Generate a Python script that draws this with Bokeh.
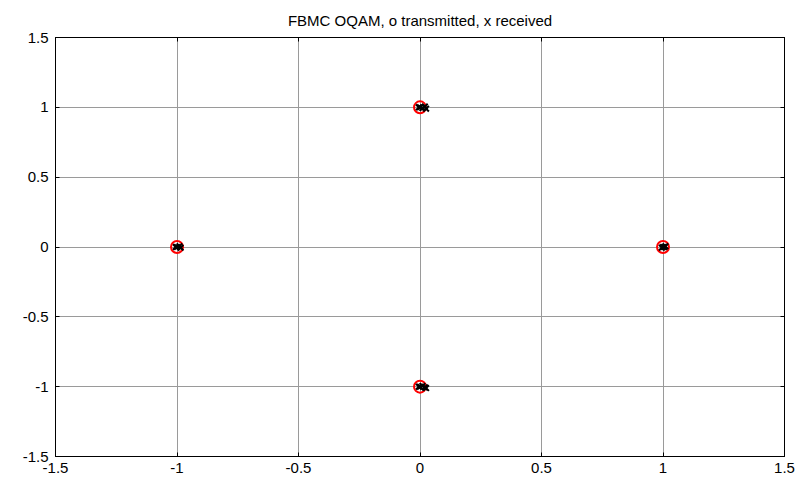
from bokeh.plotting import figure
from bokeh.models import Range1d, FixedTicker, LinearAxis
from bokeh.embed import file_html
from bokeh.resources import INLINE

# Transmitted OQAM symbols (o)
tx_re = [1.0, 0.0, -1.0, 0.0]
tx_im = [0.0, 1.0, 0.0, -1.0]

# Received symbols (x), clustered around the transmitted ones
rx_re = [1.0, 1.01, 0.995, 1.005,
         0.0, 0.01, 0.02, 0.025, -0.005,
         -1.0, -0.99, -0.985, -1.005,
         0.0, 0.01, 0.02, 0.025, -0.005]
rx_im = [0.0, 0.005, -0.005, 0.0,
         1.0, 0.995, 1.005, 0.99, 1.0,
         0.0, 0.005, -0.005, 0.0,
         -1.0, -0.995, -1.005, -1.01, -1.0]

ticks = [-1.5, -1.0, -0.5, 0.0, 0.5, 1.0, 1.5]
tick_labels = {-1.5: "-1.5", -1.0: "-1", -0.5: "-0.5", 0.0: "0",
               0.5: "0.5", 1.0: "1", 1.5: "1.5"}

p = figure(width=801, height=479, output_backend="svg", toolbar_location=None,
           x_range=Range1d(-1.5, 1.5), y_range=Range1d(-1.5, 1.5),
           title="FBMC OQAM, o transmitted, x received",
           min_border_left=55, min_border_right=17, min_border_top=37,
           min_border_bottom=23)

p.title.align = "center"
p.title.text_font = "Liberation Sans"
p.title.text_font_size = "15px"
p.title.text_font_style = "normal"
p.title.text_color = "black"
p.title.offset = 0
p.title.standoff = 17

p.background_fill_color = "white"
p.border_fill_color = "white"
p.outline_line_color = "black"
p.outline_line_width = 1

for ax in (p.xaxis[0], p.yaxis[0]):
    ax.ticker = FixedTicker(ticks=ticks)
    ax.major_label_overrides = tick_labels
    ax.major_tick_in = 4
    ax.major_tick_out = 0
    ax.minor_tick_in = 0
    ax.minor_tick_out = 0
    ax.axis_line_color = "black"
    ax.major_tick_line_color = "black"
    ax.major_label_text_font = "Liberation Sans"
    ax.major_label_text_font_size = "15px"
    ax.major_label_text_color = "black"
p.xaxis[0].major_label_standoff = 6
p.yaxis[0].major_label_standoff = 7

for loc in ("above", "right"):
    a = LinearAxis(ticker=FixedTicker(ticks=ticks))
    a.major_tick_in = 4
    a.major_tick_out = 0
    a.minor_tick_in = 0
    a.minor_tick_out = 0
    a.major_label_overrides = {t: "" for t in ticks}
    a.major_label_standoff = 0
    a.axis_line_color = "black"
    a.major_tick_line_color = "black"
    p.add_layout(a, loc)

p.xgrid.ticker = FixedTicker(ticks=ticks)
p.ygrid.ticker = FixedTicker(ticks=ticks)
for g in (p.xgrid, p.ygrid):
    g.grid_line_color = "#9a9a9a"
    g.grid_line_width = 1

p.scatter(tx_re, tx_im, marker="circle", size=12, fill_color=None,
          line_color="red", line_width=2)
p.scatter(rx_re, rx_im, marker="x", size=8, line_color="black", line_width=2)

open("out.html", "w").write(file_html(p, INLINE))
